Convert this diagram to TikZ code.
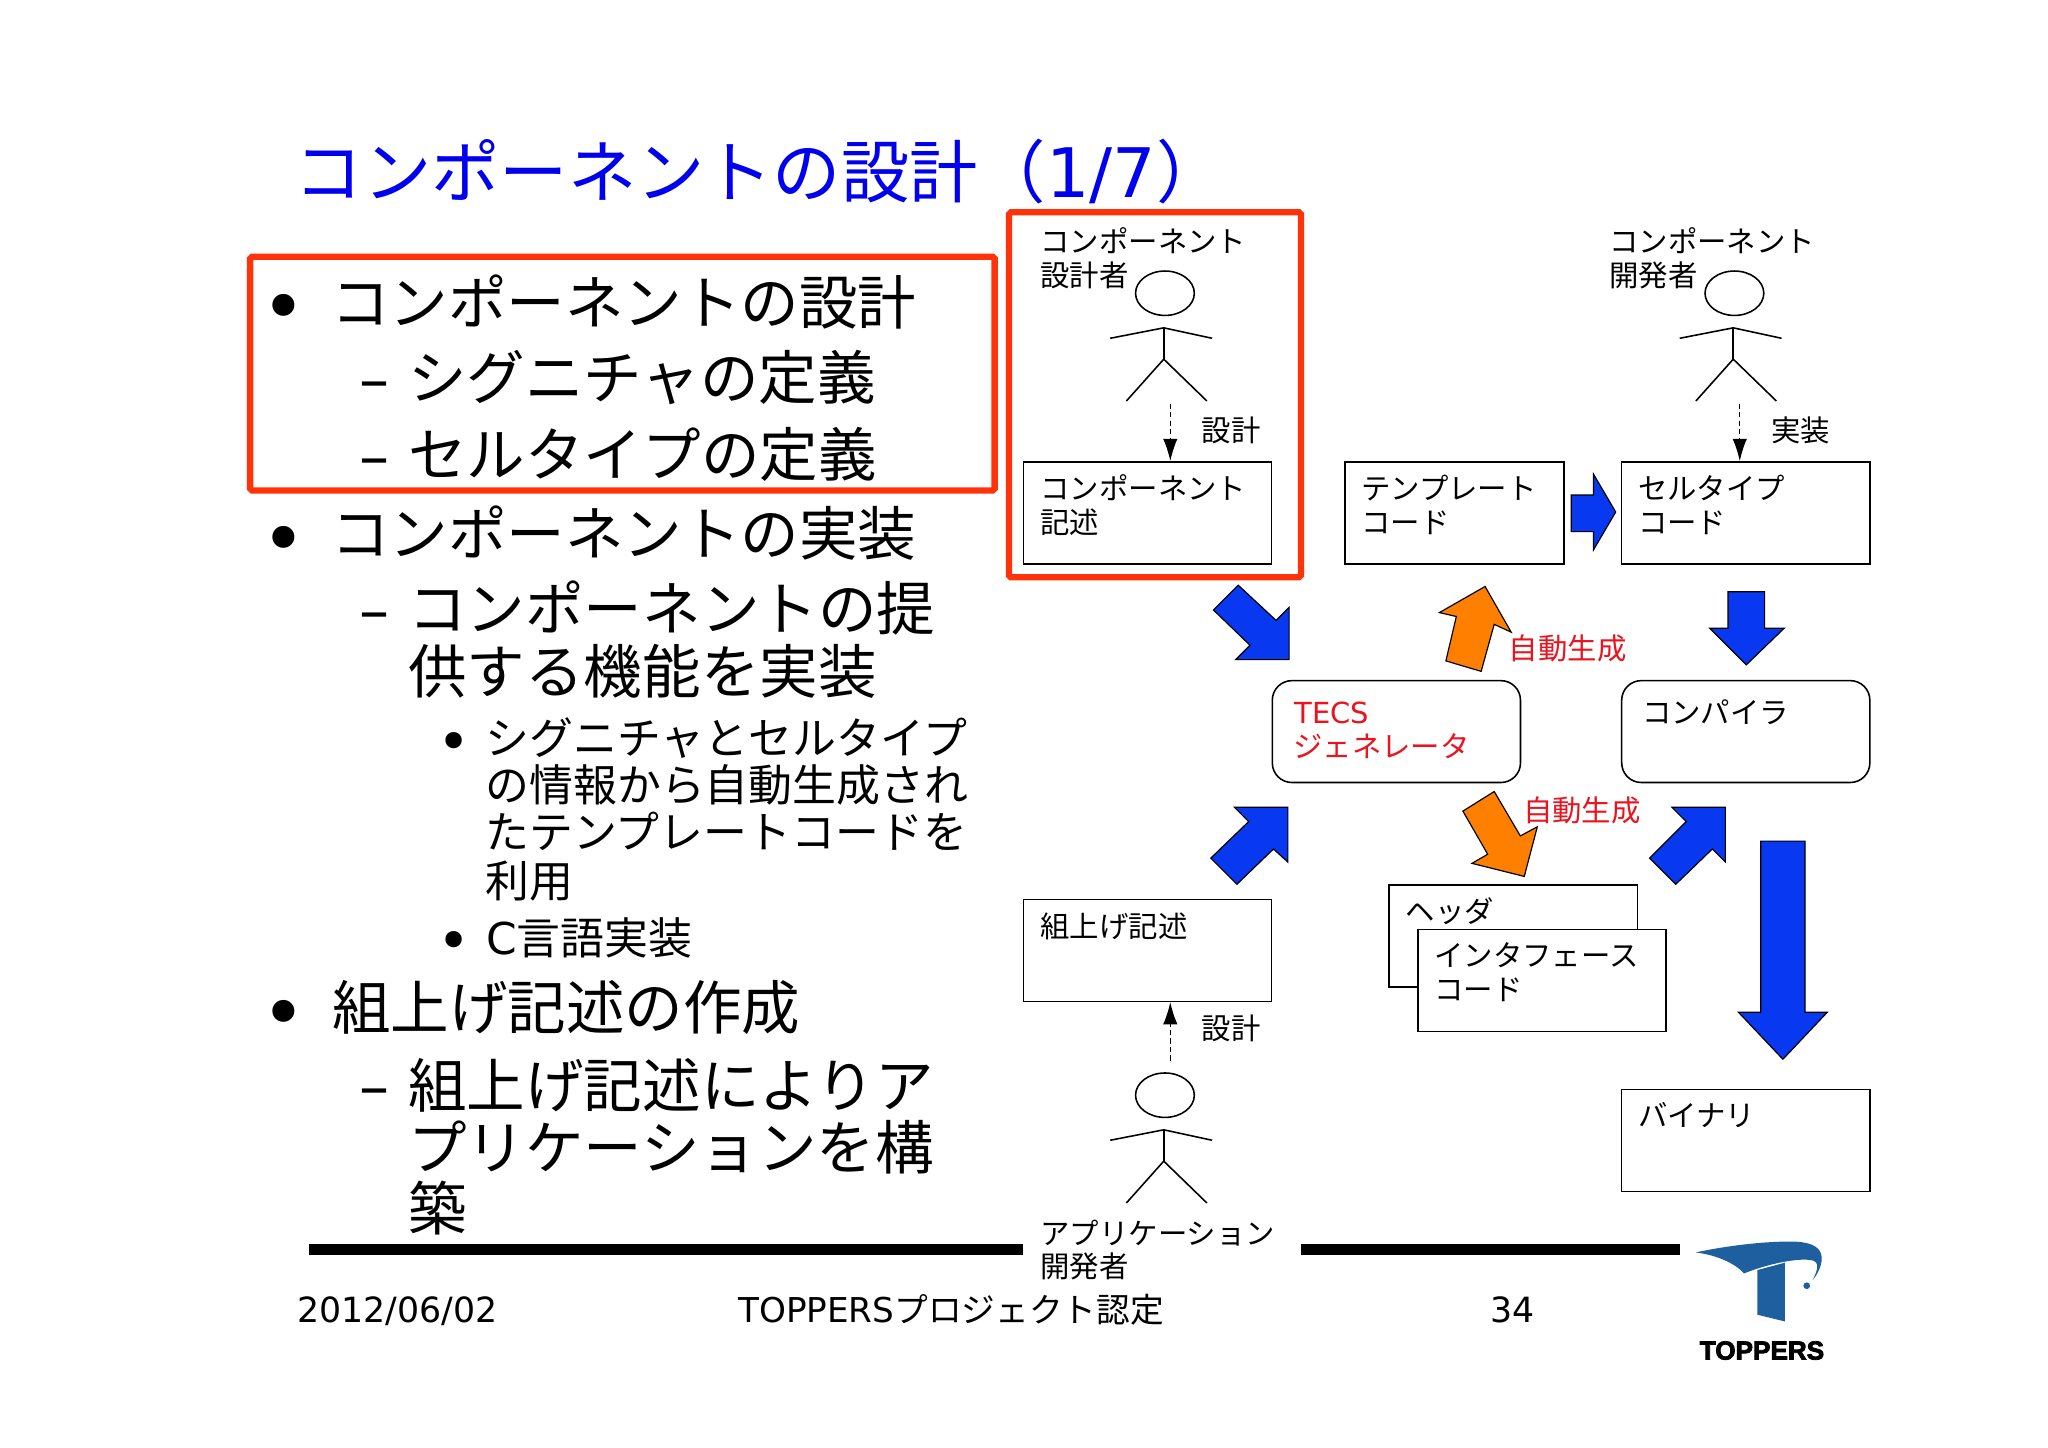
\documentclass[tikz,border=0pt]{standalone}
\usepackage{fontspec}
\usetikzlibrary{arrows.meta}
\newfontfamily\cjk{Noto Sans CJK JP}
\newfontfamily\lat{DejaVu Sans}
\newfontfamily\logofont{Liberation Sans}[BoldFont={Liberation Sans Bold},BoldFeatures={FakeBold=3}]
\definecolor{slideblue}{RGB}{0,0,238}
\definecolor{arrowblue}{RGB}{8,56,240}
\definecolor{arroworange}{RGB}{255,128,0}
\definecolor{framered}{RGB}{255,51,10}
\definecolor{labelred}{RGB}{235,20,30}
\definecolor{logoblue}{RGB}{30,95,160}
\tikzset{
  titletext/.style={anchor=base west,inner sep=0pt,yshift=-20pt,text=slideblue,font=\cjk\fontsize{52.3}{60}\selectfont},
  lone/.style={anchor=base west,inner sep=0pt,yshift=-17.1pt,font=\cjk\fontsize{44.8}{50}\selectfont},
  lthree/.style={anchor=base west,inner sep=0pt,yshift=-12.8pt,font=\cjk\fontsize{33.6}{40}\selectfont},
  bullone/.style={anchor=center,inner sep=0pt,font=\lat\fontsize{58}{60}\selectfont},
  bullthree/.style={anchor=center,inner sep=0pt,font=\lat\fontsize{43}{50}\selectfont},
  dashmark/.style={anchor=base west,inner sep=0pt,yshift=-17.3pt,font=\lat\fontsize{46}{50}\selectfont},
  boxtext/.style={anchor=base west,inner sep=0pt,yshift=-9.1pt,font=\cjk\fontsize{22.5}{26}\selectfont},
  redtext/.style={boxtext,text=labelred},
  foot/.style={anchor=base west,inner sep=0pt,yshift=-10.2pt,font=\cjk\fontsize{25.8}{30}\selectfont},
  plainbox/.style={draw=black,line width=1.2pt,fill=white,anchor=north west,inner sep=0pt,minimum width=#1,minimum height=78pt},
  roundbox/.style={plainbox=#1,rounded corners=15pt},
  redframe/.style={draw=framered,line width=4.8pt,rounded corners=1.5pt},
  blueblock/.style={draw=black,line width=0.9pt,fill=arrowblue,line join=miter},
  orangeblock/.style={draw=black,line width=0.9pt,fill=arroworange,line join=miter},
  dashlink/.style={draw=black,line width=1pt,dash pattern=on 4pt off 2.5pt,-{Latex[length=17pt,width=11pt]}},
  footbar/.style={draw=black,line width=8pt},
  actor/.pic={
    \draw[line width=1.2pt] (0.9,-26.5) ellipse (22.5 and 17);
    \draw[line width=1.2pt] (-41,8) -- (0,0) -- (37,8);
    \draw[line width=1.2pt] (0,0) -- (0,24);
    \draw[line width=1.2pt] (-28.6,56) -- (0,24) -- (33,56);
  }
}
\begin{document}
\begin{tikzpicture}[x=1pt,y=-1pt]
\useasboundingbox (0,0) rectangle (1568,1108);
\fill[white] (0,0) rectangle (1568,1108);

% title
\node[titletext] (title) at (225.5,131) {コンポーネントの設計（{\lat 1/7}）};

% left list
\node[bullone] (b1) at (217,240) {•};
\node[lone] (t1) at (253.5,231) {コンポーネントの設計};
\node[dashmark] (d1) at (275,289) {–};
\node[lone] (t1a) at (312.5,289) {シグニチャの定義};
\node[dashmark] (d2) at (275,348) {–};
\node[lone] (t1b) at (312.5,348) {セルタイプの定義};
\node[bullone] (b2) at (217,418) {•};
\node[lone] (t2) at (253.5,408) {コンポーネントの実装};
\node[dashmark] (d3) at (275,466) {–};
\node[lone] (t2a) at (312.5,466) {コンポーネントの提};
\node[lone] (t2b) at (312.5,514) {供する機能を実装};
\node[bullthree] (b3) at (348,572) {•};
\node[lthree] (t3a) at (371.5,565) {シグニチャとセルタイプ};
\node[lthree] (t3b) at (371.5,601) {の情報から自動生成され};
\node[lthree] (t3c) at (371.5,637) {たテンプレートコードを};
\node[lthree] (t3d) at (371.5,674) {利用};
\node[bullthree] (b4) at (348,724) {•};
\node[lthree] (t4) at (372,718) {{\lat C}言語実装};
\node[bullone] (b5) at (217,781) {•};
\node[lone] (t5) at (254,771) {組上げ記述の作成};
\node[dashmark] (d4) at (275,831) {–};
\node[lone] (t5a) at (312.5,831) {組上げ記述によりア};
\node[lone] (t5b) at (312.5,878) {プリケーションを構};
\node[lone] (t5c) at (312.5,925) {築};

% footer bars
\draw[footbar] (236.5,956.6) -- (783.5,956.6);
\draw[footbar] (996,956.6) -- (1286.5,956.6);

% boxes
\node[plainbox=190pt] (compbox) at (783,353) {};
\node[plainbox=168pt] (tmplbox) at (1029,353) {};
\node[plainbox=190pt] (cellbox) at (1241,353) {};
\node[roundbox=190pt] (tecs) at (973.5,520.5) {};
\node[roundbox=190pt] (compiler) at (1241,520.5) {};
\node[plainbox=190pt] (asmbox) at (783,688) {};
\node[plainbox=190pt] (hdrbox) at (1063,677) {};
\node[plainbox=190pt] (ifbox) at (1085,711) {};
\node[plainbox=190pt] (binbox) at (1241,833.5) {};

% highlight frames
\draw[redframe] (191.5,196.5) rectangle (761.5,375.5);
\draw[redframe] (772.5,162.5) rectangle (996,442);

% actors
\pic at (891,251) {actor};
\pic at (1327,251) {actor};
\pic at (891,865) {actor};
\coordinate (designerfoot) at (896,309);
\coordinate (developerfoot) at (1332,309);
\coordinate (appfoot) at (896,812);

% dashed links
\draw[dashlink] (designerfoot) -- (compbox.north -| designerfoot);
\draw[dashlink] (developerfoot) -- (cellbox.north -| developerfoot);
\draw[dashlink] (appfoot) -- (asmbox.south -| appfoot);

% box and actor labels
\node[boxtext] (l1) at (796.5,184) {コンポーネント};
\node[boxtext] (l2) at (796.5,210) {設計者};
\node[boxtext] (l3) at (1232,184) {コンポーネント};
\node[boxtext] (l4) at (1232,210) {開発者};
\node[boxtext] (l5) at (920,329) {設計};
\node[boxtext] (l6) at (1356,329) {実装};
\node[boxtext] (l7) at (796.5,373) {コンポーネント};
\node[boxtext] (l8) at (796.5,399) {記述};
\node[boxtext] (l9) at (1042,373) {テンプレート};
\node[boxtext] (l10) at (1042,399) {コード};
\node[boxtext] (l11) at (1254,373) {セルタイプ};
\node[boxtext] (l12) at (1254,399) {コード};
\node[redtext] (l13) at (1155,496) {自動生成};
\node[redtext] (l14) at (991,545) {{\lat\fontsize{22.2}{26}\selectfont TECS}};
\node[redtext] (l15) at (990,571) {ジェネレータ};
\node[boxtext] (l16) at (1257,545) {コンパイラ};
\node[redtext] (l17) at (1166,620) {自動生成};
\node[boxtext] (l18) at (796.5,709) {組上げ記述};
\node[boxtext] (l19) at (1076,697) {ヘッダ};
\node[boxtext] (l20) at (1098,731) {インタフェース};
\node[boxtext] (l21) at (1098,757) {コード};
\node[boxtext] (l22) at (920,787) {設計};
\node[boxtext] (l23) at (1254,853) {バイナリ};
\node[boxtext] (l24) at (796.5,944) {アプリケーション};
\node[boxtext] (l25) at (796.5,969) {開発者};

% block arrows
\draw[blueblock] (1203,379) -- (1220,379) -- (1220,363) -- (1237,392) -- (1220,421) -- (1220,407) -- (1203,407) -- cycle;
\draw[blueblock] (948,448) -- (977,475) -- (987,465) -- (987,505) -- (946,505) -- (957,494) -- (929,467) -- cycle;
\draw[orangeblock] (1137,449) -- (1157,484) -- (1144,478) -- (1134,514) -- (1107,506) -- (1115,472) -- (1102,469) -- cycle;
\draw[blueblock] (1323,453) -- (1351,453) -- (1351,481) -- (1366,481) -- (1337,509) -- (1309,481) -- (1323,481) -- cycle;
\draw[blueblock] (986,618) -- (986,660) -- (975,650) -- (947,677) -- (927,657) -- (956,629) -- (945,618) -- cycle;
\draw[orangeblock] (1144,606) -- (1164,640) -- (1177,633) -- (1167,671) -- (1127,661) -- (1139,654) -- (1120,621) -- cycle;
\draw[blueblock] (1321,618) -- (1321,660) -- (1311,650) -- (1283,677) -- (1263,657) -- (1291,629) -- (1280,618) -- cycle;
\draw[blueblock] (1348,644) -- (1382,644) -- (1382,775) -- (1399,775) -- (1365,811) -- (1331,775) -- (1348,775) -- cycle;

% footer
\node[foot] (f1) at (227.5,1002) {{\lat\fontsize{26.6}{30}\selectfont 2012/06/02}};
\node[foot] (f2) at (565,1002) {{\lat\fontsize{26.2}{30}\selectfont TOPPERS}プロジェクト認定};
\node[foot] (f3) at (1141,1002) {{\lat\fontsize{26.6}{30}\selectfont 34}};

% logo
\begin{scope}[shift={(1286.3,934.1)},x=0.2552pt,y=-0.2552pt]
  \fill[logoblue] (47,97) .. controls (150,75) and (270,62) .. (350,65)
     .. controls (400,68) and (425,85) .. (425,115)
     .. controls (425,140) and (410,165) .. (398,180)
     .. controls (410,155) and (420,130) .. (400,122)
     .. controls (370,112) and (280,125) .. (192,160)
     .. controls (165,130) and (110,105) .. (47,97) -- cycle;
  \fill[logoblue] (232,150) -- (314,128) -- (314,304) -- (232,284) -- cycle;
  \fill[logoblue] (380,197) circle (10);
\end{scope}
\node[anchor=center,inner sep=0pt,font=\logofont\bfseries\fontsize{20}{24}\selectfont] (logoname) at (1349,1034) {TOPPERS};
\end{tikzpicture}
\end{document}
